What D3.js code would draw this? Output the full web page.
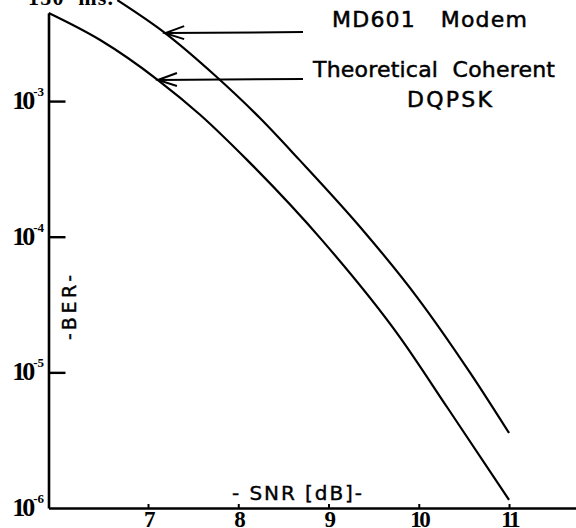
<!DOCTYPE html>
<html>
<head>
<meta charset="utf-8">
<script src="https://cdn.jsdelivr.net/npm/d3@7"></script>
<style>
  html, body { margin: 0; padding: 0; background: #fff; }
  svg { display: block; }
</style>
</head>
<body>
<svg id="chart" width="576" height="528"></svg>
<script>
// SNR (dB) vs bit error rate for the modem and the theoretical curve
const modemSnr = [6.66, 7.19, 7.74, 8.24, 8.68, 9.35, 9.98, 10.57, 11.0];
const modemBer = [5.55e-3, 3.17e-3, 1.55e-3, 7.5e-4, 3.67e-4, 1.18e-4, 3.59e-5, 9.9e-6, 3.57e-6];

const theorySnr = [5.90, 6.47, 7.11, 7.58, 8.10, 8.93, 9.79, 10.32, 11.0];
const theoryBer = [4.46e-3, 2.82e-3, 1.43e-3, 7.9e-4, 3.67e-4, 9.4e-5, 1.82e-5, 5.46e-6, 1.15e-6];

const xTicks = [7, 8, 9, 10, 11];
const yTicks = [1e-3, 1e-4, 1e-5];
const yLabelValues = [1e-3, 1e-4, 1e-5, 1e-6];
const yTickExp = ["-3", "-4", "-5", "-6"];

// annotation arrows: the point on each curve they touch, and their text
const notes = [
  { snr: 7.19, ber: 3.17e-3,
    lines: [{ text: "MD601   Modem", x: 332, y: 27, w: 195 }] },
  { snr: 7.11, ber: 1.43e-3,
    lines: [{ text: "Theoretical  Coherent", x: 313, y: 77, w: 242 },
            { text: "DQPSK", x: 407, y: 107, w: 85 }] }
];

const svg = d3.select("#chart");

const xStart = 5.8975, xEnd = 11.742;
const x = d3.scaleLinear().domain([xStart, xEnd]).range([48.5, 576]);
const y = d3.scaleLog().domain([4.46e-3, 1e-6]).range([13, 508]);

const serif = "'Liberation Serif', 'DejaVu Serif', serif";
const sans = "'DejaVu Sans', 'Liberation Sans', sans-serif";

// y axis: ticks pointing into the plot
const yAxis = svg.append("g")
  .attr("transform", `translate(${x(xStart)},0)`)
  .call(d3.axisLeft(y).tickValues(yTicks).tickSizeInner(-17).tickSizeOuter(0).tickFormat(""));
yAxis.select(".domain").attr("stroke", "#000").attr("stroke-width", 2.6);
yAxis.selectAll(".tick line").attr("stroke", "#000").attr("stroke-width", 2.4);

// power-of-ten labels, including the one at the foot of the axis
yLabelValues.forEach((v, i) => {
  const t = svg.append("text")
    .attr("x", 44).attr("y", y(v) + 8)
    .attr("text-anchor", "end")
    .style("font-family", serif)
    .style("font-weight", "bold");
  t.append("tspan").text("10").style("font-size", "26px").attr("letter-spacing", "-3");
  t.append("tspan").text(yTickExp[i]).style("font-size", "13px").attr("dx", 1).attr("dy", -13);
});

// x axis
const xAxis = svg.append("g")
  .attr("transform", `translate(0,${y(1e-6)})`)
  .call(d3.axisBottom(x).tickValues(xTicks).tickFormat(d3.format("d"))
    .tickSizeInner(-4).tickSizeOuter(0));
xAxis.select(".domain").attr("stroke", "#000").attr("stroke-width", 2.6);
xAxis.selectAll(".tick line").attr("stroke", "#000").attr("stroke-width", 2);
xAxis.selectAll(".tick text")
  .attr("y", 19).attr("dy", 0)
  .style("font-family", serif)
  .style("font-weight", "bold")
  .style("font-size", "23px")
  .attr("letter-spacing", "-2.5")
  .attr("fill", "#000");

// curves
const line = d3.line().x(d => x(d[0])).y(d => y(d[1])).curve(d3.curveMonotoneX);
[[modemSnr, modemBer], [theorySnr, theoryBer]].forEach(([s, b]) => {
  svg.append("path")
    .datum(s.map((v, i) => [v, b[i]]))
    .attr("d", line)
    .attr("fill", "none")
    .attr("stroke", "#000")
    .attr("stroke-width", 2.2);
});

// arrows with labels
notes.forEach(n => {
  const tx = x(n.snr), ty = y(n.ber);
  const ex = 303, ey = ty - 1;
  const g = svg.append("g").attr("stroke", "#000").attr("fill", "none").attr("stroke-width", 2);
  g.append("line").attr("x1", tx).attr("y1", ty).attr("x2", ex).attr("y2", ey);
  g.append("path").attr("d", `M${tx + 19},${ty - 7} L${tx},${ty} L${tx + 19},${ty + 6}`);
  n.lines.forEach(l => {
    svg.append("text")
      .attr("x", l.x).attr("y", l.y)
      .attr("textLength", l.w).attr("lengthAdjust", "spacing")
      .style("white-space", "pre")
      .style("font-family", sans)
      .style("font-size", "22px")
      .attr("stroke", "#000").attr("stroke-width", 0.5)
      .text(l.text);
  });
});

// axis titles
svg.append("text")
  .attr("x", 232).attr("y", 500)
  .attr("textLength", 130).attr("lengthAdjust", "spacing")
  .style("white-space", "pre")
  .style("font-family", sans)
  .style("font-size", "20px")
  .attr("stroke", "#000").attr("stroke-width", 0.4)
  .text("- SNR [dB]-");

svg.append("text")
  .attr("transform", "translate(76,340) rotate(-90)")
  .attr("textLength", 65).attr("lengthAdjust", "spacing")
  .style("font-family", sans)
  .style("font-size", "19px")
  .attr("stroke", "#000").attr("stroke-width", 0.4)
  .text("-BER-");

// caption running off the top edge
svg.append("text")
  .attr("x", 28).attr("y", 5)
  .attr("textLength", 85).attr("lengthAdjust", "spacing")
  .style("white-space", "pre")
  .style("font-family", serif)
  .style("font-weight", "bold")
  .style("font-size", "22px")
  .text("150  ms.");
</script>
</body>
</html>
